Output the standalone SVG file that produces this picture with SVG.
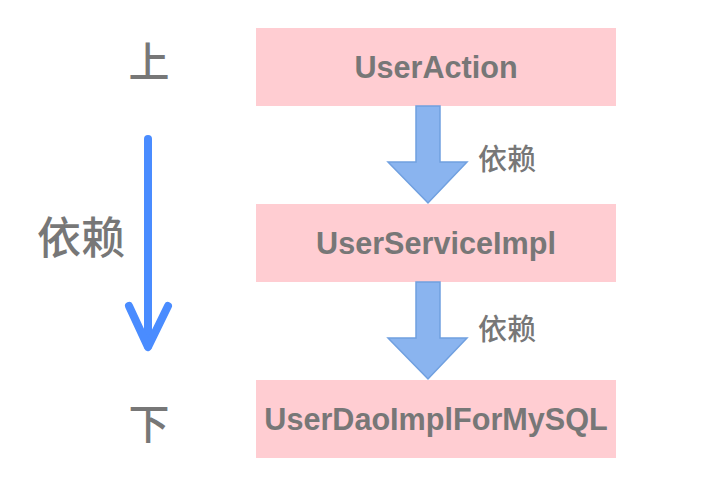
<svg xmlns="http://www.w3.org/2000/svg" width="713" height="490" viewBox="0 0 713 490">
<style>
.box{fill:#ffcdd2;stroke:none}
.lbl{font-family:"Liberation Sans",Arial,sans-serif;font-weight:bold;font-size:30.6px;fill:#777777;text-anchor:middle;dominant-baseline:central}
.cjk{font-family:"Noto Sans CJK SC","Noto Sans",sans-serif;font-weight:500;fill:#777777;text-anchor:middle;dominant-baseline:central}
.barrow{fill:#8ab4ef;stroke:#70a0e0;stroke-width:1.5;stroke-linejoin:miter}
</style>
<rect width="713" height="490" fill="#ffffff"/>
<g id="node-useraction">
<rect class="box" x="256" y="28" width="360" height="78"/>
<text class="lbl" x="436" y="67">UserAction</text>
</g>
<g id="node-userserviceimpl">
<rect class="box" x="256" y="204" width="360" height="78"/>
<text class="lbl" x="436" y="243">UserServiceImpl</text>
</g>
<g id="node-userdaoimpl">
<rect class="box" x="256" y="380" width="360" height="78"/>
<text class="lbl" x="436" y="419">UserDaoImplForMySQL</text>
</g>
<g id="connectors">
<polygon class="barrow" points="416,106 440,106 440,162 467,162 428,203 388,162 416,162"/>
<text class="cjk" x="507" y="157" font-size="29">依赖</text>
<polygon class="barrow" points="416,282 440,282 440,338 467,338 428,379 388,338 416,338"/>
<text class="cjk" x="507" y="327" font-size="29">依赖</text>
</g>
<g id="side">
<text class="cjk" x="149" y="59" font-size="41">上</text>
<text class="cjk" x="81" y="235" font-size="44">依赖</text>
<text class="cjk" x="149" y="421" font-size="41">下</text>
<g fill="none" stroke="#4a8cff" stroke-width="8" stroke-linecap="round" stroke-linejoin="round">
<line x1="148" y1="139" x2="148" y2="346"/>
<polyline points="129,306 148,347 168,306"/>
</g>
</g>
</svg>
